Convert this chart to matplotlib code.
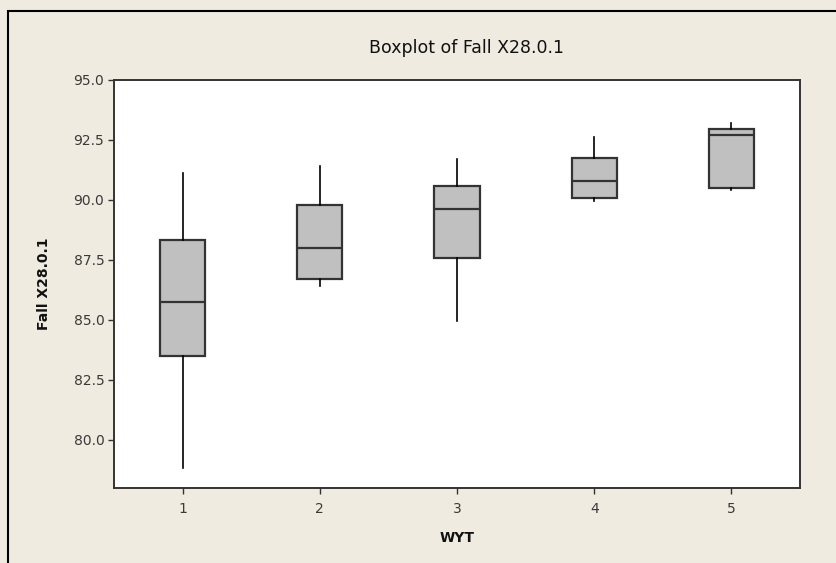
import matplotlib
matplotlib.use("Agg")
import matplotlib.pyplot as plt
from matplotlib.patches import Rectangle

# Five-number summaries of Fall X28.0.1 by water-year type (WYT)
groups = ["1", "2", "3", "4", "5"]
whislo = [78.85, 86.40, 84.95, 89.95, 90.40]
q1 = [83.48, 86.70, 87.58, 90.05, 90.50]
med = [85.72, 88.00, 89.63, 90.78, 92.68]
q3 = [88.30, 89.76, 90.55, 91.74, 92.95]
whishi = [91.12, 91.40, 91.70, 92.60, 93.20]

yticks = [80.0, 82.5, 85.0, 87.5, 90.0, 92.5, 95.0]

W, H = 837, 563
bg = "#EFEBE0"
fig = plt.figure(figsize=(W / 100, H / 100), dpi=100, facecolor=bg)

# outer frame (left and top edges visible)
fig.patches.append(Rectangle((8 / W, -0.2), 1.5, (H - 11) / H + 0.2,
                             transform=fig.transFigure, fill=False,
                             edgecolor="black", linewidth=1.5))

ax = fig.add_axes([114 / W, 1 - 488 / H, (800 - 114) / W, (488 - 79.5) / H])
ax.set_facecolor("white")

stats = []
for i, g in enumerate(groups):
    stats.append(dict(label=g, whislo=whislo[i], q1=q1[i], med=med[i],
                      q3=q3[i], whishi=whishi[i], fliers=[]))

ax.bxp(stats, positions=range(1, len(groups) + 1), widths=0.33,
       patch_artist=True, showcaps=False,
       boxprops=dict(facecolor="#C0C0C0", edgecolor="#333333", linewidth=1.6),
       medianprops=dict(color="#333333", linewidth=1.6),
       whiskerprops=dict(color="black", linewidth=1.2))

ax.set_xlim(0.5, 5.5)
ax.set_ylim(78.0, 95.0)
ax.set_yticks(yticks)
ax.set_yticklabels([f"{v:.1f}" for v in yticks])

for s in ax.spines.values():
    s.set_color("#333333")
    s.set_linewidth(1.4)

ax.tick_params(axis="both", direction="out", length=4, width=1,
               color="#333333", labelcolor="#3a3a3a", labelsize=10)
ax.tick_params(axis="y", pad=3)
ax.tick_params(axis="x", pad=6)

fig.text(467 / W, 1 - 48 / H, "Boxplot of Fall X28.0.1", ha="center",
         va="center", fontsize=12.5, color="#111111")
ax.set_xlabel("WYT", fontsize=10, fontweight="bold", color="#111111", labelpad=11)
ax.set_ylabel("Fall X28.0.1", fontsize=10, fontweight="bold", color="#111111",
              labelpad=16)

fig.savefig("out.png", dpi=100, facecolor=bg)
